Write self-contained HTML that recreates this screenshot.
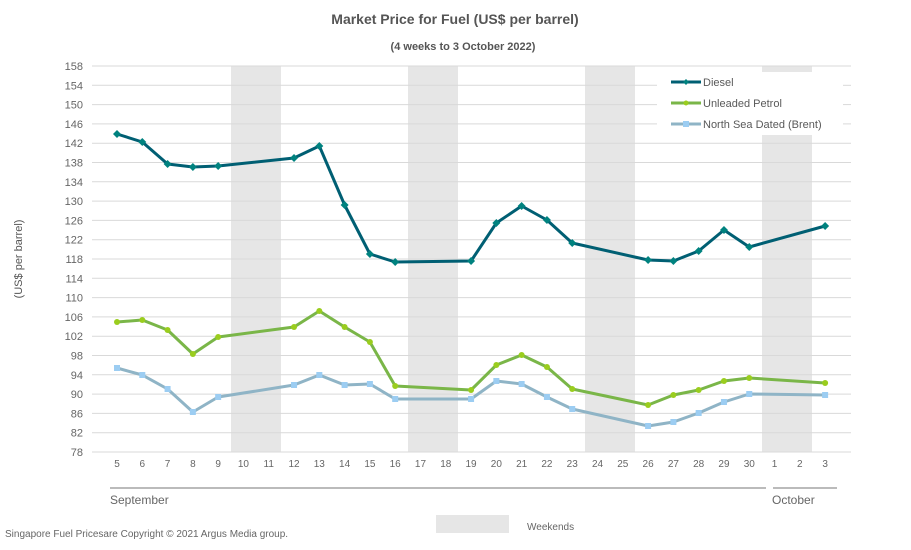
<!DOCTYPE html><html><head><meta charset="utf-8"><style>body{margin:0;background:#fff}svg{display:block;font-family:"Liberation Sans",sans-serif}</style></head><body>
<svg width="911" height="550" viewBox="0 0 911 550" xmlns="http://www.w3.org/2000/svg">
<text x="455" y="24" text-anchor="middle" font-size="14" font-weight="bold" fill="#555">Market Price for Fuel (US$ per barrel)</text>
<text x="463" y="50" text-anchor="middle" font-size="11" font-weight="bold" fill="#555">(4 weeks to 3 October 2022)</text>
<g fill="#e6e6e6">
<rect x="231" y="66" width="50" height="386"/><rect x="408" y="66" width="50" height="386"/><rect x="585" y="66" width="50" height="386"/><rect x="762" y="66" width="50" height="386"/>
</g>
<g stroke="#d9d9d9" stroke-width="1" id="grid"></g>
<rect x="657" y="72" width="186" height="63" fill="#fff"/>
<g id="ylab" font-size="11" fill="#666" text-anchor="end"></g>
<g id="xlab" font-size="10" fill="#666" text-anchor="middle"></g>
<text transform="translate(22,259) rotate(-90)" text-anchor="middle" font-size="11" fill="#555">(US$ per barrel)</text>
<line x1="110" y1="488" x2="766" y2="488" stroke="#777"/><line x1="773" y1="488" x2="837" y2="488" stroke="#777"/>
<text x="110" y="504" font-size="12" fill="#666">September</text><text x="772" y="504" font-size="12" fill="#666">October</text>
<text x="5" y="537" font-size="10" fill="#666">Singapore Fuel Pricesare Copyright © 2021 Argus Media group.</text>
<rect x="436" y="515" width="73" height="18" fill="#e6e6e6"/><text x="527" y="530" font-size="10" fill="#666">Weekends</text>
<g id="series"></g>
<g font-size="11" fill="#595959">
<line x1="671" y1="82" x2="701" y2="82" stroke="#005f73" stroke-width="3"/><path d="M686 79l3 3-3 3-3-3z" fill="#00827f"/><text x="703" y="86">Diesel</text>
<line x1="671" y1="103" x2="701" y2="103" stroke="#7ab648" stroke-width="3"/><circle cx="686" cy="103" r="2.5" fill="#9acd1e"/><text x="703" y="107">Unleaded Petrol</text>
<line x1="671" y1="124" x2="701" y2="124" stroke="#8fb4c6" stroke-width="3"/><rect x="683" y="121" width="6" height="6" fill="#9ccdf2"/><text x="703" y="128">North Sea Dated (Brent)</text>
</g>
<script>
var ns="http://www.w3.org/2000/svg";function el(p,t,a,txt){var e=document.createElementNS(ns,t);for(var k in a)e.setAttribute(k,a[k]);if(txt!=null)e.textContent=txt;document.getElementById(p).appendChild(e);return e}
for(var i=0;i<=20;i++){var y=66+i*19.3;
if(i>=1&&i<=3){el("grid","line",{x1:92,y1:y,x2:657,y2:y});el("grid","line",{x1:843,y1:y,x2:851,y2:y});}else el("grid","line",{x1:92,y1:y,x2:851,y2:y});
el("ylab","text",{x:83,y:y+4},158-4*i);}
var days=[];for(var d=5;d<=30;d++)days.push(d);days.push(1,2,3);
function X(i){return 117+25.29*i}
days.forEach(function(d,i){el("xlab","text",{x:X(i),y:467},d)});
function idx(d){return d>=5?d-5:25+d}
var S=[
{c:"#005f73",m:"#00827f",t:"d",p:[[5,134],[6,142],[7,164],[8,167],[9,166],[12,158],[13,146],[14,205],[15,254],[16,262],[19,261],[20,223],[21,206],[22,220],[23,243],[26,260],[27,261],[28,251],[29,230],[30,247],[3,226]]},
{c:"#7ab648",m:"#9acd1e",t:"c",p:[[5,322],[6,320],[7,330],[8,354],[9,337],[12,327],[13,311],[14,327],[15,342],[16,386],[19,390],[20,365],[21,355],[22,367],[23,389],[26,405],[27,395],[28,390],[29,381],[30,378],[3,383]]},
{c:"#8fb4c6",m:"#9ccdf2",t:"s",p:[[5,368],[6,375],[7,389],[8,412],[9,397],[12,385],[13,375],[14,385],[15,384],[16,399],[19,399],[20,381],[21,384],[22,397],[23,409],[26,426],[27,422],[28,413],[29,402],[30,394],[3,395]]}];
S.forEach(function(s){var pts=s.p.map(function(q){return [X(idx(q[0])),q[1]]});
el("series","polyline",{points:pts.map(function(p){return p.join(",")}).join(" "),fill:"none",stroke:s.c,"stroke-width":3,"stroke-linejoin":"round"});
pts.forEach(function(p){if(s.t=="d")el("series","path",{d:"M"+p[0]+" "+(p[1]-4)+"l4 4-4 4-4-4z",fill:s.m});else if(s.t=="c")el("series","circle",{cx:p[0],cy:p[1],r:3,fill:s.m});else el("series","rect",{x:p[0]-3,y:p[1]-3,width:6,height:6,fill:s.m});});});
</script>
</svg></body></html>
